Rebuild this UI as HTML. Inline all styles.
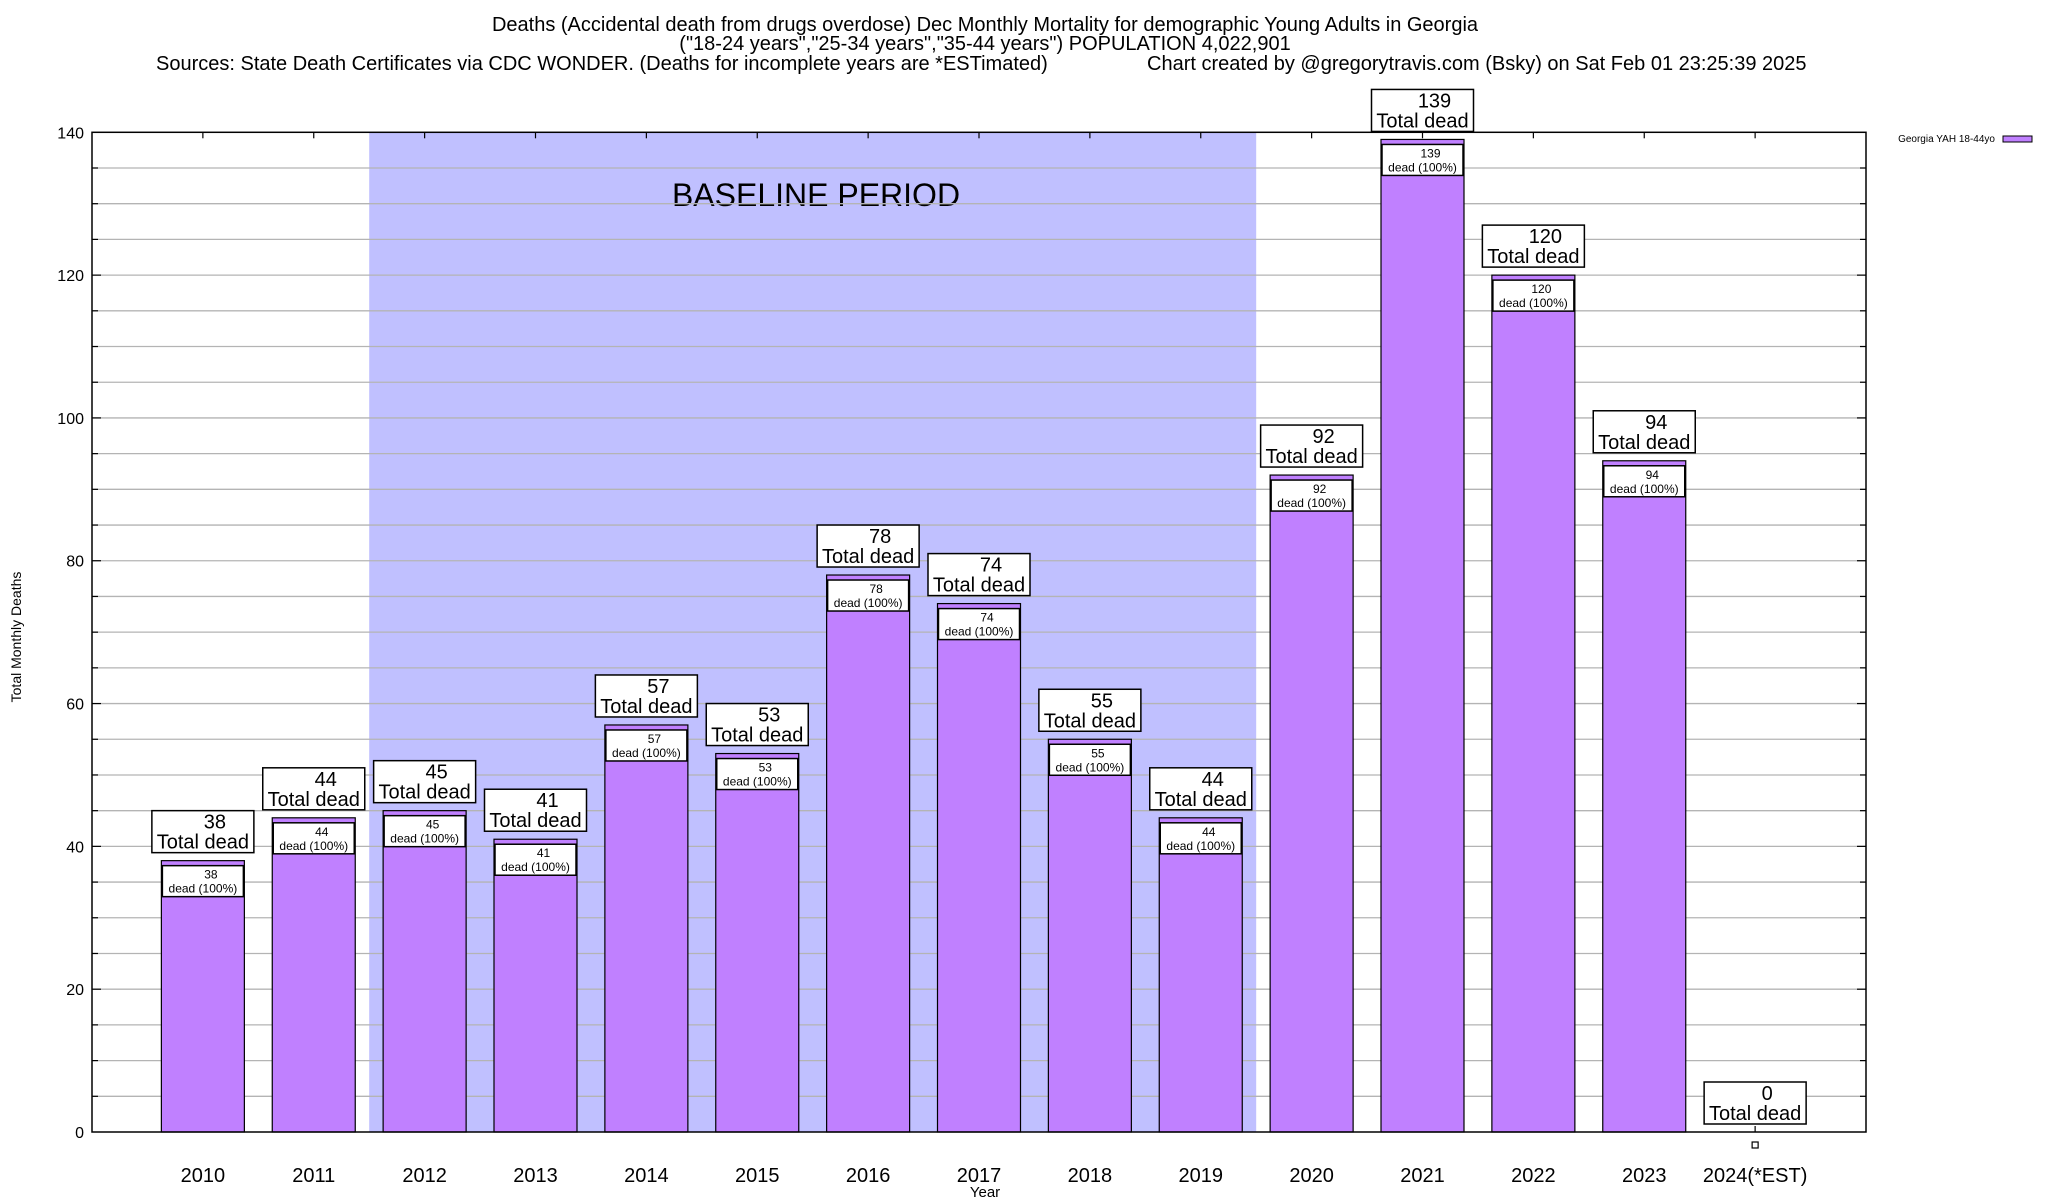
<!DOCTYPE html>
<html><head><meta charset="utf-8"><style>
html,body{margin:0;padding:0;background:#fff;}
svg{display:block;font-family:"Liberation Sans",sans-serif;}
</style></head><body>
<svg id="chart" width="2048" height="1200" viewBox="0 0 2048 1200" xmlns="http://www.w3.org/2000/svg">
<g font-size="20" fill="#000">
<text x="985" y="31" text-anchor="middle">Deaths (Accidental death from drugs overdose) Dec Monthly Mortality for demographic Young Adults in Georgia</text>
<text x="985" y="50" text-anchor="middle">("18-24 years","25-34 years","35-44 years") POPULATION 4,022,901</text>
<text x="156" y="70">Sources: State Death Certificates via CDC WONDER. (Deaths for incomplete years are *ESTimated)</text>
<text x="1147" y="70">Chart created by @gregorytravis.com (Bsky) on Sat Feb 01 23:25:39 2025</text>
</g>
<g id="plot"></g>
<text x="0" y="0" font-size="14" text-anchor="middle" transform="translate(21,637) rotate(-90)">Total Monthly Deaths</text>
<text x="985" y="1197" font-size="15" text-anchor="middle">Year</text>
<g>
<text x="1995" y="142" font-size="10" text-anchor="end">Georgia YAH 18-44yo</text>
<rect x="2003" y="136" width="29" height="6" fill="#c080ff" stroke="#000" stroke-width="1"/>
</g>
</svg>
<script>
const categories = ["2010","2011","2012","2013","2014","2015","2016","2017","2018","2019","2020","2021","2022","2023","2024(*EST)"];
const deaths = [38,44,45,41,57,53,78,74,55,44,92,139,120,94,0];
const yTicks = [0,20,40,60,80,100,120,140];
const baselineRange = [1.5, 9.5];

const L=92,R=1866,T=132.3,B=1132;
const xMin=-1,xMax=15,yMax=140;
function xs(i){return L+(i-xMin)/(xMax-xMin)*(R-L);}
function ys(v){return B-v/yMax*(B-T);}
const NS="http://www.w3.org/2000/svg";
const plot=document.getElementById('plot');
function mk(tag,attrs,parent,text){const e=document.createElementNS(NS,tag);for(const k in attrs)e.setAttribute(k,attrs[k]);if(text!==undefined)e.textContent=text;(parent||plot).appendChild(e);return e;}

let band=mk('rect',{x:xs(baselineRange[0]),y:T,width:xs(baselineRange[1])-xs(baselineRange[0]),height:B-T,fill:'#c0c0ff'});


let bt=mk('text',{x:816,y:206,'font-size':32,'text-anchor':'middle'},plot,'BASELINE PERIOD');



for(let v=5;v<yMax;v+=5){
  let g=mk('line',{x1:L,x2:R,y1:ys(v),y2:ys(v),stroke:'#b4b4b4','stroke-width':1.3});
  
  
  const len=(v%20===0)?9:6;
  mk('line',{x1:L,x2:L+len,y1:ys(v),y2:ys(v),stroke:'#000','stroke-width':1.2});
  mk('line',{x1:R,x2:R-len,y1:ys(v),y2:ys(v),stroke:'#000','stroke-width':1.2});
}
yTicks.forEach(v=>{
  let t=mk('text',{x:84,y:ys(v)+6,'font-size':16,'text-anchor':'end'},plot,String(v));
  
  
});

categories.forEach((c,i)=>{
  const cx=xs(i),v=deaths[i],w=83;
  mk('line',{x1:cx,x2:cx,y1:T,y2:T+6,stroke:'#000','stroke-width':1.2});
  mk('line',{x1:cx,x2:cx,y1:B,y2:B-6,stroke:'#000','stroke-width':1.2});
  if(v>0){
    let b=mk('rect',{x:cx-w/2,y:ys(v),width:w,height:B-ys(v),fill:'#c080ff',stroke:'#000','stroke-width':1.2});
    
    
    let ib=mk('rect',{x:cx-w/2+1,y:ys(v)+5,width:w-2,height:31,fill:'#fff',stroke:'#000','stroke-width':1.5});
    
    
    let t1=mk('text',{x:cx+8,y:ys(v)+18,'font-size':12,'text-anchor':'middle'},plot,String(v));
    
    
    mk('text',{x:cx,y:ys(v)+32,'font-size':12,'text-anchor':'middle'},plot,'dead (100%)');
  } else {
    let m=mk('rect',{x:cx-3,y:1142,width:6,height:6,fill:'none',stroke:'#000','stroke-width':1.2});
    
    
  }
  const by=ys(v)-8;
  let ob=mk('rect',{x:cx-51,y:by-42,width:102,height:42,fill:'#fff',stroke:'#000','stroke-width':1.5});
  
  
  let t2=mk('text',{x:cx+12,y:by-24,'font-size':20,'text-anchor':'middle'},plot,String(v));
  
  
  mk('text',{x:cx,y:by-4,'font-size':20,'text-anchor':'middle'},plot,'Total dead');
  let xl=mk('text',{x:cx,y:1182,'font-size':20,'text-anchor':'middle'},plot,c);
  
  
});

let ax=mk('rect',{x:L,y:T,width:R-L,height:B-T,fill:'none',stroke:'#000','stroke-width':1.5});


</script>
</body></html>
